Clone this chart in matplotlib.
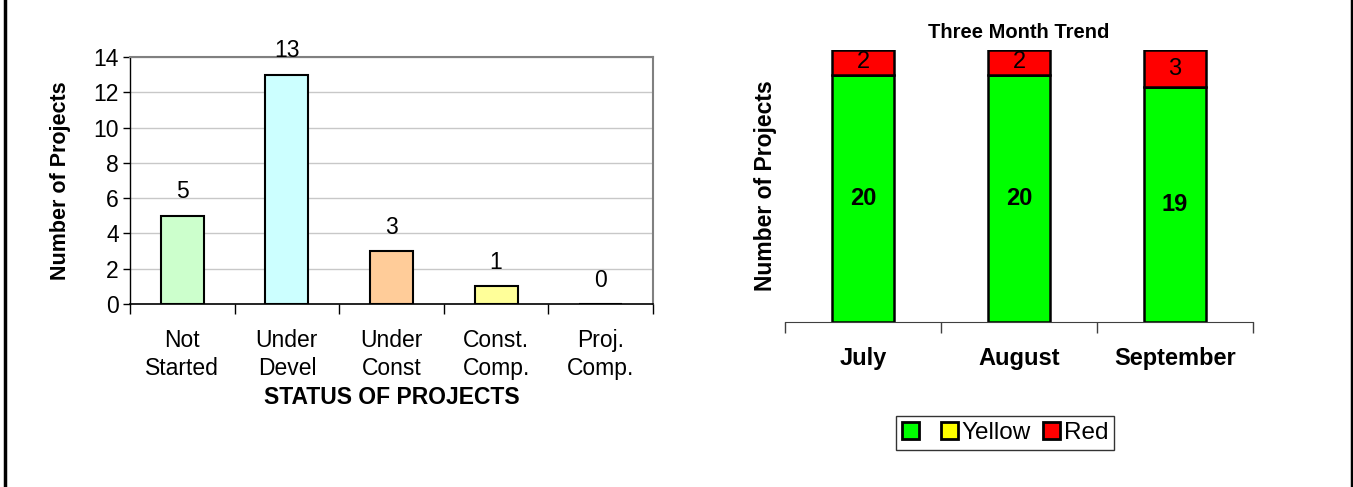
import matplotlib
matplotlib.use("Agg")
from matplotlib import pyplot as plt
from matplotlib.lines import Line2D

plt.rcParams['font.family'] = ['Liberation Sans', 'DejaVu Sans']

# left chart data
status = ["Not\nStarted", "Under\nDevel", "Under\nConst", "Const.\nComp.", "Proj.\nComp."]
counts = [5, 13, 3, 1, 0]
status_colors = ["#CCFFCC", "#CCFFFF", "#FFCC99", "#FFFF99", "#CC99FF"]

# right chart data
months = ["July", "August", "September"]
green = [20, 20, 19]
yellow = [0, 0, 0]
red = [2, 2, 3]

W, H = 1353, 487
fig = plt.figure(figsize=(W / 100, H / 100), dpi=100)


def box(l, t, r, b):
    return [l / W, (H - b) / H, (r - l) / W, (b - t) / H]


# ---- left chart
ax = fig.add_axes(box(130, 57, 653, 304))
x = list(range(len(status)))
ax.bar(x, counts, width=0.41, color=status_colors, edgecolor="black", linewidth=1.5, zorder=3)
for i, c in enumerate(counts):
    ax.text(i, c + 0.7, str(c), ha="center", va="bottom", fontsize=16.5)
ax.set_xlim(-0.5, 4.5)
ax.set_ylim(0, 14)
ax.set_yticks(range(0, 15, 2))
ax.grid(axis="y", color="#c8c8c8", linewidth=1, zorder=0)
ax.set_xticks(x)
ax.set_xticklabels(status, fontsize=16.5, linespacing=1.3)
ax.set_xticks([i - 0.5 for i in range(len(status) + 1)], minor=True)
ax.tick_params(axis="x", which="major", length=0, pad=18)
ax.tick_params(axis="x", which="minor", length=7, width=1, color="black")
ax.tick_params(axis="y", labelsize=16.5, length=5, width=1, pad=3)
for s in ["top", "right"]:
    ax.spines[s].set_color("#808080")
    ax.spines[s].set_linewidth(1.5)
ax.spines["left"].set_linewidth(1)
ax.spines["bottom"].set_linewidth(1.2)
ax.set_xlabel("STATUS OF PROJECTS", fontsize=16.5, fontweight="bold", labelpad=4)
ax.set_ylabel("Number of Projects", fontsize=15.5, fontweight="bold", labelpad=16)

# ---- right chart
ax2 = fig.add_axes(box(785, 50, 1253, 322))
xm = list(range(len(months)))
g = ax2.bar(xm, green, width=0.4, color="#00FF00", edgecolor="black", linewidth=1.8, label=" ")
yb = [a for a in green]
y = ax2.bar(xm, yellow, width=0.4, bottom=yb, color="#FFFF00", edgecolor="black", linewidth=1.8, label="Yellow")
rb = [a + b for a, b in zip(green, yellow)]
r = ax2.bar(xm, red, width=0.4, bottom=rb, color="#FF0000", edgecolor="black", linewidth=1.8, label="Red")
for i in xm:
    ax2.text(i, green[i] / 2, str(green[i]), ha="center", va="center", fontsize=17, fontweight="bold")
    ax2.text(i, rb[i] + red[i] / 2, str(red[i]), ha="center", va="center", fontsize=17)
ax2.set_xlim(-0.5, 2.5)
ax2.set_ylim(0, 22)
ax2.set_yticks([])
for s in ["top", "right", "left"]:
    ax2.spines[s].set_visible(False)
ax2.spines["bottom"].set_color("#404040")
ax2.set_xticks(xm)
ax2.set_xticklabels(months, fontsize=17, fontweight="bold")
ax2.set_xticks([i - 0.5 for i in range(len(months) + 1)], minor=True)
ax2.tick_params(axis="x", which="major", length=0, pad=18)
ax2.tick_params(axis="x", which="minor", length=8, width=1, color="#404040")
ax2.set_ylabel("Number of Projects", fontsize=16.5, fontweight="bold", labelpad=6)
ax2.set_title("Three Month Trend", fontsize=14.5, fontweight="bold", pad=9)
leg = ax2.legend(loc="center", bbox_to_anchor=((1005 - 785) / 468, -(433 - 322) / 272),
                 ncol=3, fontsize=17.5, frameon=True, fancybox=False, edgecolor="black",
                 handlelength=0.7, handleheight=0.7, handletextpad=0.15, columnspacing=0.5,
                 borderpad=0.25, borderaxespad=0)
leg.get_frame().set_linewidth(1)
for p in leg.get_patches():
    p.set_linewidth(2)

# page border lines
fig.add_artist(Line2D([4.5 / W, 4.5 / W], [0, 1], color="black", linewidth=2.5))
fig.add_artist(Line2D([1351.5 / W, 1351.5 / W], [0, 1], color="black", linewidth=2.5))

fig.savefig("out.png", dpi=100)
